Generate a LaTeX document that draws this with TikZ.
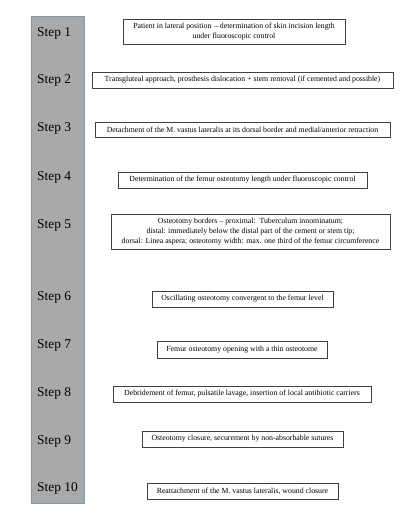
\documentclass[tikz,border=0pt]{standalone}
\usepackage{fontspec}
\setmainfont{Liberation Serif}
\usepackage{xcolor}
\usetikzlibrary{positioning}
\definecolor{bargray}{HTML}{A9A9A9}
\definecolor{barline}{HTML}{8096A8}
\tikzset{
  stepbox/.style={draw=black!75, line width=0.6pt, align=center,
    inner sep=1pt, font=\fontsize{7.8}{10}\selectfont},
  steplabel/.style={anchor=west, inner sep=0pt, font=\fontsize{13.4}{15}\selectfont}
}

\begin{document}
\begin{tikzpicture}[x=1pt,y=-1pt]
\useasboundingbox (0,0) rectangle (407,529);
 % Grey bar with the step numbers
 \node[draw=barline, fill=bargray, line width=0.6pt, anchor=north west,
       minimum width=53pt, minimum height=487pt, inner sep=0pt] (bar) at (31,16) {};

 \node[steplabel] (l1) at (37,33) {Step 1};
 \node[steplabel] (l2) at (37,80) {Step 2};
 \node[steplabel] (l3) at (37,128) {Step 3};
 \node[steplabel] (l4) at (37,177) {Step 4};
 \node[steplabel] (l5) at (37,225) {Step 5};
 \node[steplabel] (l6) at (37,297) {Step 6};
 \node[steplabel] (l7) at (37,345) {Step 7};
 \node[steplabel] (l8) at (37,393) {Step 8};
 \node[steplabel] (l9) at (37,441) {Step 9};
 \node[steplabel] (l10) at (37,488) {Step 10};

 % Step boxes
 \node[stepbox, minimum width=222pt, minimum height=25pt] (s1) at (234,31.5)
   {Patient in lateral position \,--\,determination of skin incision length\\under fluoroscopic control};
 \node[stepbox, minimum width=301pt, minimum height=16pt] (s2) at (242.5,80)
   {Transgluteal approach, prosthesis dislocation + stem removal (if cemented and possible)};
 \node[stepbox, minimum width=295pt, minimum height=15pt] (s3) at (242.5,130)
   {Detachment of the M. vastus lateralis at its dorsal border and medial/anterior retraction};
 \node[stepbox, minimum width=249pt, minimum height=16pt] (s4) at (242.5,180)
   {Determination of the femur osteotomy length under fluoroscopic control};
 \node[stepbox, minimum width=279pt, minimum height=35pt] (s5) at (250.5,231.5)
   {Osteotomy borders -- proximal:\ \ Tuberculum innominatum;\\
    distal: immediately below the distal part of the cement or stem tip;\\
    dorsal: Linea aspera; osteotomy width: max. one third of the femur circumference};
 \node[stepbox, minimum width=181pt, minimum height=16pt] (s6) at (242.5,299)
   {Oscillating osteotomy convergent to the femur level};
 \node[stepbox, minimum width=170pt, minimum height=17pt] (s7) at (242,349.5)
   {Femur osteotomy opening with a thin osteotome};
 \node[stepbox, minimum width=258pt, minimum height=16pt] (s8) at (242,394)
   {Debridement of femur, pulsatile lavage, insertion of local antibiotic carriers};
 \node[stepbox, minimum width=201pt, minimum height=16pt] (s9) at (242.5,439)
   {Osteotomy closure, securement by non-absorbable sutures};
 \node[stepbox, minimum width=191pt, minimum height=16pt] (s10) at (242.5,491)
   {Reattachment of the M. vastus lateralis, wound closure};

\end{tikzpicture}
\end{document}
